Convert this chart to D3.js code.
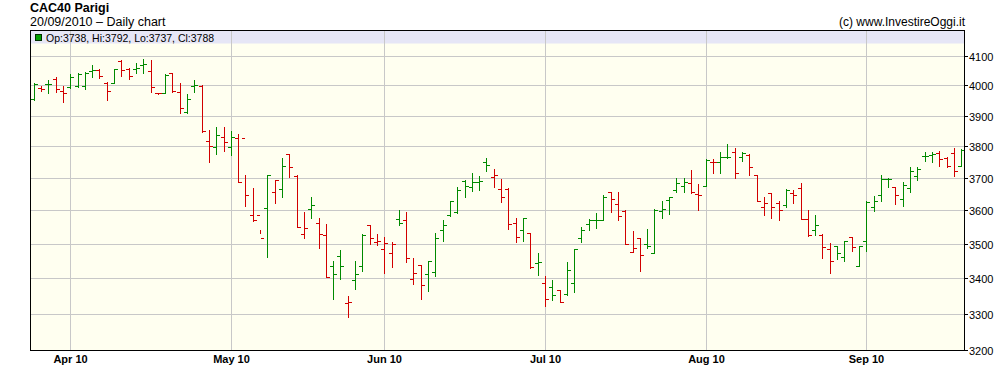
<!DOCTYPE html>
<html>
<head>
<meta charset="utf-8">
<script src="https://cdn.jsdelivr.net/npm/d3@7"></script>
<style>
  body { margin: 0; background: #fff; }
  svg { display: block; }
  text { font-family: "Liberation Sans", Arial, sans-serif; }
</style>
</head>
<body>
<div id="chart"></div>
<script>
// daily bars, CAC40, end of March -> 20 Sep 2010 (one entry per trading day)
var opens = [3954,3993,4004,4021,3981,3996,3998,3997,4049,4051,4010,4010,4083,4055,4055,4068,4048,3975,3976,4041,
  3979,3911,3998,3998,3818,3799,3831,3799,3828,3828,3585,3585,3608,3658,3667,3777,3707,3528,3603,3562,
  3525,3434,3465,3329,3396,3434,3555,3506,3484,3474,3575,3570,3399,3437,3413,3418,3540,3585,3595,3690,
  3672,3688,3750,3704,3666,3667,3561,3541,3531,3443,3387,3375,3366,3355,3387,3518,3558,3570,3570,3656,
  3619,3597,3477,3516,3500,3474,3598,3633,3664,3674,3683,3649,3676,3751,3751,3765,3783,3767,3772,3708,
  3611,3652,3624,3616,3652,3670,3573,3540,3526,3484,3493,3462,3521,3436,3510,3611,3647,3697,3672,3634,
  3670,3706,3769,3773,3780,3762,3780,3738];
var highs = [4010,3998,4018,4030,3998,4040,4043,4045,4068,4055,4012,4055,4086,4060,4078,4089,4086,3976,4038,4043,
  4010,3970,4018,4001,3852,3861,3861,3851,3839,3708,3670,3542,3710,3694,3764,3777,3708,3596,3642,3576,
  3558,3451,3481,3351,3451,3528,3555,3530,3521,3507,3600,3595,3460,3437,3449,3533,3572,3630,3673,3693,
  3716,3706,3762,3729,3698,3669,3577,3578,3533,3472,3406,3394,3366,3448,3486,3551,3573,3593,3647,3657,
  3656,3600,3538,3516,3543,3605,3630,3640,3700,3700,3725,3682,3759,3759,3783,3806,3796,3783,3774,3709,
  3642,3654,3628,3666,3664,3683,3600,3585,3528,3503,3493,3510,3521,3493,3628,3644,3708,3700,3673,3689,
  3735,3733,3782,3782,3785,3766,3796,3792];
var lows = [3951,3981,3974,3979,3946,3992,3995,3988,4030,4027,3951,4008,4032,4023,4044,4041,3979,3973,3974,3978,
  3909,3909,3979,3846,3750,3775,3785,3772,3688,3615,3568,3533,3461,3622,3641,3702,3549,3518,3576,3489,
  3403,3341,3399,3291,3370,3421,3501,3498,3416,3432,3555,3446,3384,3342,3364,3406,3508,3583,3593,3642,
  3660,3663,3721,3672,3626,3545,3505,3508,3430,3408,3321,3338,3333,3353,3361,3505,3541,3546,3570,3595,
  3571,3500,3476,3421,3489,3472,3576,3589,3656,3656,3654,3600,3674,3716,3716,3763,3699,3754,3709,3628,
  3586,3576,3570,3610,3624,3573,3523,3525,3458,3414,3455,3449,3479,3436,3479,3598,3630,3672,3619,3614,
  3656,3695,3754,3749,3738,3733,3706,3737];
var closes = [4005,3987,4006,3987,3976,4030,4038,4044,4052,4032,3981,4055,4051,4032,4061,4072,3996,3974,4036,3981,
  3926,3954,4000,3848,3801,3838,3815,3831,3688,3648,3570,3516,3708,3694,3736,3733,3549,3546,3618,3528,
  3403,3411,3434,3334,3411,3526,3516,3510,3503,3500,3562,3458,3416,3381,3449,3516,3556,3628,3664,3674,
  3687,3690,3740,3708,3642,3558,3521,3578,3433,3446,3342,3353,3333,3424,3486,3540,3570,3572,3640,3636,
  3583,3500,3489,3467,3495,3602,3606,3640,3685,3688,3656,3647,3757,3749,3765,3767,3716,3780,3733,3628,
  3624,3611,3600,3664,3648,3575,3526,3555,3491,3449,3472,3510,3490,3493,3626,3630,3696,3698,3647,3678,
  3722,3727,3770,3775,3759,3738,3722,3788];

// first trading day of each month (index into the bars)
var monthLabels = ["Apr 10", "May 10", "Jun 10", "Jul 10", "Aug 10", "Sep 10"];
var monthIdx = [5, 27, 48, 70, 92, 114];
var yTicks = [3200, 3300, 3400, 3500, 3600, 3700, 3800, 3900, 4000, 4100];

var width = 1000, height = 386;
var plotLeft = 30, plotRight = 965, plotTop = 31, plotBottom = 351;

var upColor = "#008a00", downColor = "#d20000";

var svg = d3.select("#chart").append("svg")
    .attr("width", width)
    .attr("height", height);

var x = d3.scaleLinear().domain([0, closes.length - 1]).range([34.2, 961.7]);
var y = d3.scaleLog().domain([3200, 4100]).range([350.7, 56.7]);

function crisp(v) { return Math.floor(v) + 0.5; }

// titles
svg.append("text")
    .attr("x", 30).attr("y", 11.5)
    .style("font-size", "12.5px").style("font-weight", "bold")
    .text("CAC40 Parigi");
svg.append("text")
    .attr("x", 30).attr("y", 25.5)
    .style("font-size", "12.5px")
    .text("20/09/2010 \u2013 Daily chart");
svg.append("text")
    .attr("x", 965).attr("y", 25.5)
    .attr("text-anchor", "end")
    .style("font-size", "12px")
    .text("(c) www.InvestireOggi.it");

// plot background + legend strip
svg.append("rect")
    .attr("x", plotLeft).attr("y", plotTop)
    .attr("width", plotRight - plotLeft).attr("height", plotBottom - plotTop)
    .attr("fill", "#fffff0");
svg.append("rect")
    .attr("x", plotLeft + 1).attr("y", plotTop)
    .attr("width", plotRight - plotLeft - 2).attr("height", 12.5)
    .attr("fill", "#e6e6f6");

// gridlines
var grid = svg.append("g").attr("stroke", "#c8c8c8").attr("stroke-width", 1);
grid.selectAll("line.h")
    .data(yTicks.slice(1))
  .enter().append("line")
    .attr("class", "h")
    .attr("x1", plotLeft).attr("x2", plotRight)
    .attr("y1", function(d) { return crisp(y(d)); })
    .attr("y2", function(d) { return crisp(y(d)); });
grid.selectAll("line.v")
    .data(monthIdx)
  .enter().append("line")
    .attr("class", "v")
    .attr("y1", plotTop).attr("y2", plotBottom)
    .attr("x1", function(d) { return crisp(x(d)); })
    .attr("x2", function(d) { return crisp(x(d)); });

// OHLC bars, coloured against the previous close
var bars = svg.append("g").selectAll("g")
    .data(closes.map(function(c, i) {
        return { i: i, o: opens[i], h: highs[i], l: lows[i], c: c,
                 up: i == 0 ? c >= opens[i] : c >= closes[i - 1] };
    }))
  .enter().append("g")
    .attr("stroke", function(d) { return d.up ? upColor : downColor; })
    .attr("stroke-width", 1)
    .attr("shape-rendering", "crispEdges");

bars.append("line")
    .attr("x1", function(d) { return crisp(x(d.i)); })
    .attr("x2", function(d) { return crisp(x(d.i)); })
    .attr("y1", function(d) { return Math.floor(y(d.h)); })
    .attr("y2", function(d) { return Math.floor(y(d.l)) + 1; });
bars.append("line")
    .attr("x1", function(d) { return Math.floor(x(d.i)) - 3; })
    .attr("x2", function(d) { return Math.floor(x(d.i)); })
    .attr("y1", function(d) { return crisp(y(d.o)); })
    .attr("y2", function(d) { return crisp(y(d.o)); });
bars.append("line")
    .attr("x1", function(d) { return Math.floor(x(d.i)) + 1; })
    .attr("x2", function(d) { return Math.floor(x(d.i)) + 4; })
    .attr("y1", function(d) { return crisp(y(d.c)); })
    .attr("y2", function(d) { return crisp(y(d.c)); });

// frame
svg.append("rect")
    .attr("x", plotLeft + 0.5).attr("y", plotTop - 0.5)
    .attr("width", plotRight - plotLeft - 1).attr("height", plotBottom - plotTop)
    .attr("fill", "none")
    .attr("stroke", "#000");

// right axis
var yAxis = svg.append("g");
yAxis.selectAll("line")
    .data(yTicks)
  .enter().append("line")
    .attr("x1", plotRight - 1).attr("x2", plotRight + 3)
    .attr("y1", function(d) { return crisp(y(d)); })
    .attr("y2", function(d) { return crisp(y(d)); })
    .attr("stroke", "#000");
yAxis.selectAll("text")
    .data(yTicks)
  .enter().append("text")
    .attr("x", plotRight + 4)
    .attr("y", function(d) { return crisp(y(d)) + 4; })
    .style("font-size", "11px")
    .text(function(d) { return d; });

// month labels
svg.append("g").selectAll("text")
    .data(monthIdx)
  .enter().append("text")
    .attr("x", function(d) { return crisp(x(d)); })
    .attr("y", 363)
    .attr("text-anchor", "middle")
    .style("font-size", "11px").style("font-weight", "bold")
    .text(function(d, i) { return monthLabels[i]; });

// legend: last bar
var n = closes.length - 1;
svg.append("rect")
    .attr("x", 35.5).attr("y", 34.5)
    .attr("width", 6).attr("height", 6)
    .attr("fill", "#00a000").attr("stroke", "#003000");
svg.append("text")
    .attr("x", 46).attr("y", 41.5)
    .style("font-size", "10.5px")
    .text("Op:" + opens[n] + ", Hi:" + highs[n] + ", Lo:" + lows[n] + ", Cl:" + closes[n]);
</script>
</body>
</html>
